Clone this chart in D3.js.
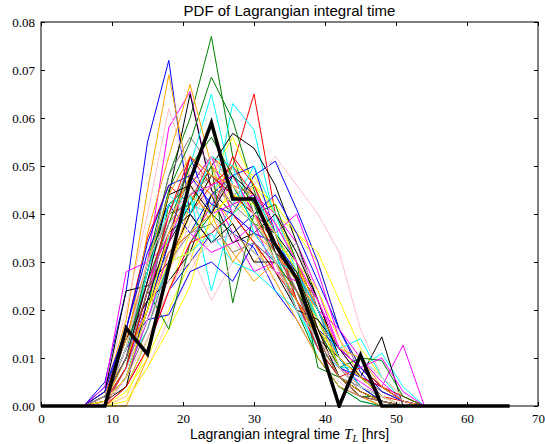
<!DOCTYPE html>
<html>
<head>
<meta charset="utf-8">
<script src="https://cdn.jsdelivr.net/npm/d3@7"></script>
<style>
  body { margin: 0; background: #fff; }
  svg { display: block; }
</style>
</head>
<body>
<svg id="chart" width="545" height="444"></svg>
<script>
// Centres des classes (heures)
const timeBins = [0,3,6,9,12,15,18,21,24,27,30,33,36,39,42,45,48,51,54,57,60,63,66];

// PDF de chaque trajectoire (une ligne par courbe)
const pdfCurves = [
  [0,0,0,.005,.024,.055,.072,.040,.034,.036,.033,.024,.018,.010,.004,.002,0,0,0,0,0,0,0],
  [0,0,0,.002,.012,.030,.048,.060,.077,.052,.040,.030,.022,.012,.006,.003,.001,0,0,0,0,0,0],
  [0,0,0,0,.006,.018,.030,.040,.046,.050,.065,.040,.030,.016,.006,.002,.001,0,0,0,0,0,0],
  [0,0,0,.001,.008,.022,.035,.042,.040,.063,.0575,.038,.022,.010,.004,.001,0,0,0,0,0,0,0],
  [0,0,0,.002,.014,.030,.058,.0655,.045,.036,.028,.030,.022,.012,.008,.005,.002,0,0,0,0,0,0],
  [0,0,0,0,.003,.010,.020,.030,.044,.050,.048,.040,.036,.030,.016,.008,.004,.001,0,0,0,0,0],
  [0,0,0,.002,.012,.028,.044,.065,.045,.040,.034,.028,.020,.014,.010,.006,.002,0,0,0,0,0,0],
  [0,0,0,.003,.018,.045,.069,.046,.038,.032,.026,.030,.024,.014,.006,.002,0,0,0,0,0,0,0],
  [0,0,0,.004,.020,.040,.062,.048,.040,.034,.030,.026,.018,.010,.005,.002,0,0,0,0,0,0,0],
  [0,0,0,.002,.010,.028,.048,.056,.050,.044,.046,.034,.024,.012,.006,.003,.001,0,0,0,0,0,0],

  [0,0,0,0,.004,.014,.024,.030,.036,.040,.048,.051,.041,.030,.016,.007,.002,0,0,0,0,0,0],
  [0,0,0,.001,.010,.028,.045,.055,.0685,.0596,.045,.032,.020,.010,.004,.001,0,0,0,0,0,0,0],
  [0,0,0,.002,.016,.035,.046,.042,.052,.048,.040,.034,.028,.022,.010,.004,.002,.001,0,0,0,0,0],
  [0,0,0,0,.008,.024,.040,.050,.065,.046,.038,.032,.020,.012,.008,.008,.011,.004,0,0,0,0,0],
  [0,0,0,0,.004,.012,.024,.034,.042,.046,.044,.040,.034,.024,.012,.006,.004,.0127,0,0,0,0,0],
  [0,0,0,0,.002,.012,.028,.040,.048,.056,.046,.040,.030,.018,.010,.004,.001,0,0,0,0,0,0],
  [0,0,0,0,.006,.020,.034,.042,.050,.0568,.0537,.046,.034,.022,.010,.006,.0144,0,0,0,0,0,0],
  [0,0,0,.001,.012,.036,.052,.067,.050,.040,.034,.026,.018,.010,.004,.002,0,0,0,0,0,0,0],
  [0,0,0,0,.002,.008,.018,.028,.036,.042,.046,.052,.046,.040,.032,.016,.006,.002,0,0,0,0,0],
  [0,0,0,.001,.008,.020,.036,.048,.044,.046,.040,.030,.034,.020,.008,.003,.001,0,0,0,0,0,0],

  [0,0,0,.004,.016,.032,.042,.036,.044,.048,.050,.036,.026,.016,.008,.006,.004,.001,0,0,0,0,0],
  [0,0,0,.002,.010,.020,.042,.046,.052,.046,.038,.036,.028,.018,.008,.004,.001,0,0,0,0,0,0],
  [0,0,0,.002,.012,.026,.036,.044,.040,.052,.046,.036,.022,.014,.006,.003,.001,0,0,0,0,0,0],
  [0,0,0,.001,.006,.018,.030,.044,.034,.042,.050,.040,.028,.018,.012,.010,.006,.002,0,0,0,0,0],
  [0,0,0,.004,.028,.030,.034,.046,.052,.040,.036,.030,.028,.020,.010,.004,.002,0,0,0,0,0,0],
  [0,0,0,0,.004,.014,.024,.036,.042,.040,.046,.042,.036,.032,.022,.012,.006,.002,0,0,0,0,0],
  [0,0,0,.003,.024,.025,.030,.040,.048,.044,.040,.036,.030,.020,.012,.008,.004,.001,0,0,0,0,0],
  [0,0,0,0,0,.010,.028,.042,.050,.046,.044,.038,.030,.020,.010,.006,.003,.001,0,0,0,0,0],
  [0,0,0,0,.006,.016,.028,.038,.046,.044,.042,.040,.032,.024,.014,.008,.004,.002,0,0,0,0,0],
  [0,0,0,.002,.012,.028,.040,.050,.046,.042,.044,.036,.026,.018,.010,.006,.003,.001,0,0,0,0,0],

  [0,0,0,.001,.006,.020,.034,.052,.040,.036,.040,.044,.036,.026,.016,.008,.004,.001,0,0,0,0,0],
  [0,0,0,.001,.008,.030,.040,.042,.050,.0215,.040,.042,.030,.008,.006,.002,.002,0,0,0,0,0,0],
  [0,0,0,0,.008,.024,.034,.052,.046,.050,.044,.034,.022,.012,.006,.008,.004,.001,0,0,0,0,0],
  [0,0,0,.001,.010,.028,.042,.044,.024,.040,.044,.036,.026,.018,.012,.014,.006,.001,0,0,0,0,0],
  [0,0,0,.001,.008,.022,.040,.044,.046,.048,.040,.036,.040,.028,.014,.006,.002,0,0,0,0,0,0],
  [0,0,0,0,.001,.008,.016,.025,.040,.044,.038,.034,.030,.024,.014,.006,.002,0,0,0,0,0,0],
  [0,0,0,.001,.004,.022,.026,.032,.044,.034,.036,.040,.032,.022,.010,.004,.002,0,0,0,0,0,0],
  [0,0,0,.001,.010,.026,.038,.048,.044,.038,.030,.034,.026,.016,.008,.004,.001,0,0,0,0,0,0],
  [0,0,0,0,.006,.014,.024,.032,.022,.030,.036,.038,.030,.022,.012,.010,.006,.002,0,0,0,0,0],
  [0,0,0,.002,.010,.024,.032,.036,.040,.050,.042,.034,.028,.014,.006,.004,.002,0,0,0,0,0,0],

  [0,0,0,.002,.012,.018,.019,.028,.030,.026,.034,.030,.024,.016,.012,.008,.003,.001,0,0,0,0,0],
  [0,0,0,.001,.008,.024,.016,.034,.040,.036,.032,.028,.024,.014,.006,.002,.001,0,0,0,0,0,0],
  [0,0,0,0,.004,.012,.024,.034,.036,.040,.034,.028,.022,.016,.010,.006,.004,.002,0,0,0,0,0],
  [0,0,0,.001,.008,.016,.030,.032,.036,.030,.028,.024,.020,.014,.008,.004,.002,0,0,0,0,0,0],
  [0,0,0,.001,.006,.018,.032,.036,.032,.034,.038,.028,.026,.020,.016,.010,.005,.001,0,0,0,0,0],
  [0,0,0,.002,.010,.020,.030,.032,.038,.046,.040,.030,.024,.018,.008,.004,.002,0,0,0,0,0,0],
  [0,0,0,.002,.014,.022,.036,.040,.034,.038,.030,.030,.020,.018,.012,.006,.002,0,0,0,0,0,0],
  [0,0,0,.001,.010,.020,.032,.036,.040,.030,.036,.032,.026,.020,.012,.010,.004,.001,0,0,0,0,0],
  [0,0,0,.001,.008,.018,.026,.030,.034,.036,.032,.028,.024,.014,.008,.004,.002,0,0,0,0,0,0],
  [0,0,0,.001,.006,.016,.030,.036,.038,.032,.034,.030,.022,.014,.008,.004,.001,0,0,0,0,0,0],

  [0,0,0,.003,.016,.034,.046,.048,.042,.040,.036,.034,.028,.020,.010,.004,.001,0,0,0,0,0,0],
  [0,0,0,.002,.012,.026,.038,.050,.056,.048,.042,.030,.024,.016,.008,.010,.0095,.002,0,0,0,0,0],
  [0,0,0,.001,.008,.024,.040,.052,.048,.044,.040,.032,.024,.014,.006,.002,.001,0,0,0,0,0,0],
  [0,0,0,.002,.012,.030,.044,.040,.052,.050,.036,.030,.028,.020,.010,.004,.002,0,0,0,0,0,0],
  [0,0,0,.002,.010,.026,.036,.044,.040,.042,.044,.038,.030,.022,.012,.008,.010,.003,0,0,0,0,0],
  [0,0,0,.001,.006,.020,.036,.044,.040,.044,.042,.036,.028,.016,.010,.006,.002,0,0,0,0,0,0],
  [0,0,0,.002,.010,.026,.044,.046,.040,.048,.044,.032,.028,.016,.006,.003,.001,0,0,0,0,0,0],
  [0,0,0,.002,.014,.030,.044,.052,.048,.046,.040,.030,.022,.014,.006,.003,.001,0,0,0,0,0,0],
  [0,0,0,.002,.012,.030,.040,.044,.052,.046,.040,.030,.020,.014,.008,.004,.002,0,0,0,0,0,0],
  [0,0,0,.002,.010,.024,.038,.044,.048,.042,.038,.032,.024,.014,.006,.002,.001,0,0,0,0,0,0]
];

// PDF moyenne (trait noir épais)
const meanCurve = [0,0,0,0,.0162,.0108,.029,.047,.059,.0431,.0431,.0336,.0266,.014,0,.0106,0,0,0,0,0,0,0];

const xTicks = [0,10,20,30,40,50,60,70];
const yTicks = [0,.01,.02,.03,.04,.05,.06,.07,.08];
const lineColors = ['#0000ff','#008000','#ff0000','#00ffff','#ff00ff','#ffff00','#000000','#ffa500','#ffc0cb','#808080'];

const serif = '"Liberation Serif", "DejaVu Serif", serif';
const sans = '"Liberation Sans", "DejaVu Sans", sans-serif';

const margin = {top: 22, right: 7, bottom: 38, left: 41};
const fullWidth = 545, fullHeight = 444;
const width = fullWidth - margin.left - margin.right;
const height = fullHeight - margin.top - margin.bottom;

const svg = d3.select('#chart');
const g = svg.append('g').attr('transform', `translate(${margin.left},${margin.top})`);

const x = d3.scaleLinear().domain([0, 70]).range([0, width]);
const y = d3.scaleLinear().domain([0, 0.08]).range([height, 0]);

g.append('clipPath').attr('id', 'clip')
  .append('rect').attr('x', 0).attr('y', -2).attr('width', width).attr('height', height + 4);

const line = d3.line()
  .x((d, i) => x(timeBins[i]))
  .y(d => y(d));

const lines = g.append('g').attr('clip-path', 'url(#clip)');

lines.selectAll('.pdf')
  .data(pdfCurves)
  .enter().append('path')
  .attr('class', 'pdf')
  .attr('fill', 'none')
  .attr('stroke', (d, i) => lineColors[i % lineColors.length])
  .attr('stroke-width', 1)
  .attr('d', line);

lines.append('path')
  .datum(meanCurve)
  .attr('fill', 'none')
  .attr('stroke', '#000')
  .attr('stroke-width', 3.5)
  .attr('d', line);

// Axes : graduations vers l'intérieur, sur les 4 côtés
const tickLen = 4;
const axes = g.append('g');
axes.append('g').attr('transform', `translate(0,${height})`)
  .call(d3.axisBottom(x).tickValues(xTicks).tickSize(-tickLen).tickPadding(8).tickFormat(d3.format('d')));
axes.append('g')
  .call(d3.axisTop(x).tickValues(xTicks).tickSize(-tickLen).tickFormat(''));
axes.append('g')
  .call(d3.axisLeft(y).tickValues(yTicks).tickSize(-tickLen).tickPadding(6).tickFormat(d3.format('.2f')));
axes.append('g').attr('transform', `translate(${width},0)`)
  .call(d3.axisRight(y).tickValues(yTicks).tickSize(-tickLen).tickFormat(''));

axes.selectAll('.domain').remove();
axes.selectAll('.tick line').attr('stroke', '#000');
axes.selectAll('.tick text')
  .style('font-family', serif)
  .style('font-size', '13px')
  .attr('fill', '#000');

g.append('rect')
  .attr('width', width).attr('height', height)
  .attr('fill', 'none').attr('stroke', '#000').attr('stroke-width', 1);

svg.append('text')
  .attr('x', margin.left + width / 2).attr('y', 16)
  .attr('text-anchor', 'middle')
  .style('font-family', sans).style('font-size', '15px')
  .text('PDF of Lagrangian integral time');

const xl = svg.append('text')
  .attr('x', margin.left + width / 2).attr('y', 439)
  .attr('text-anchor', 'middle')
  .style('font-family', sans).style('font-size', '14px');
xl.append('tspan').text('Lagrangian integral time ');
xl.append('tspan').style('font-family', serif).style('font-style', 'italic').style('font-size', '15px').text('T');
xl.append('tspan').style('font-family', serif).style('font-style', 'italic').style('font-size', '10px').attr('dy', 3).text('L');
xl.append('tspan').attr('dy', -3).text(' [hrs]');
</script>
</body>
</html>
